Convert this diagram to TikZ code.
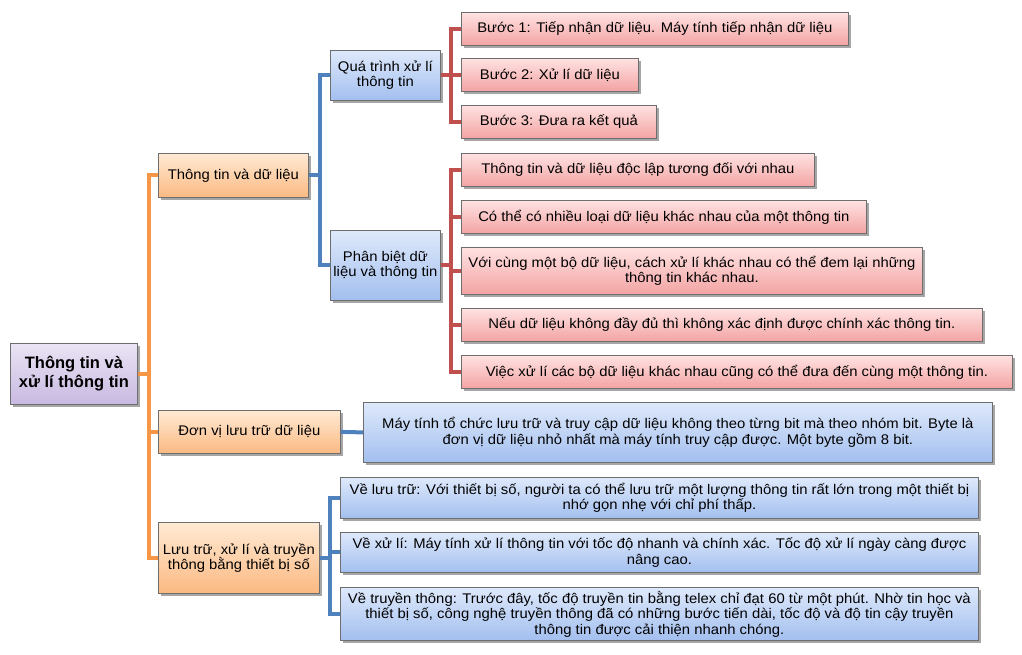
\documentclass[tikz,border=0pt]{standalone}
\usepackage{fontspec}
\setmainfont{Liberation Sans}
\newfontfamily\boxfont[FakeStretch=1.06]{Liberation Sans}
\usetikzlibrary{shadows,calc}
\definecolor{lnorange}{HTML}{F79646}
\definecolor{lnblue}{HTML}{4F81BD}
\definecolor{lnred}{HTML}{C0504D}
\definecolor{bordercol}{HTML}{6E6E6E}
\definecolor{lavtop}{HTML}{EAE4F4}
\definecolor{lavbot}{HTML}{C8B9E1}
\definecolor{ortop}{HTML}{FFEAD4}
\definecolor{orbot}{HTML}{FBB982}
\definecolor{bltop}{HTML}{DEE9FB}
\definecolor{blbot}{HTML}{A3BFEF}
\definecolor{rdtop}{HTML}{FFE2E2}
\definecolor{rdbot}{HTML}{F3A3A3}
\tikzset{
  basebox/.style={rectangle, draw=bordercol, line width=0.8pt, anchor=north west,
    align=center, inner sep=2pt, font=\boxfont\fontsize{14}{15.5}\selectfont,
    drop shadow={shadow xshift=2.5pt, shadow yshift=-3pt, opacity=0.35, fill=black}},
  rootbox/.style={basebox, top color=lavtop, bottom color=lavbot,
    font=\rmfamily\fontsize{16.5}{19}\selectfont\bfseries},
  orbox/.style={basebox, top color=ortop, bottom color=orbot},
  blbox/.style={basebox, top color=bltop, bottom color=blbot},
  rdbox/.style={basebox, top color=rdtop, bottom color=rdbot},
  oline/.style={draw=lnorange, line width=4pt},
  bline/.style={draw=lnblue, line width=4pt},
  rline/.style={draw=lnred, line width=4pt},
}
\begin{document}
\begin{tikzpicture}[x=1pt,y=-1pt]
\useasboundingbox (0,0) rectangle (1022,654);

\coordinate (ox) at (149,0);
\coordinate (bx1) at (320,0);
\coordinate (bx2) at (330,0);
\coordinate (rx) at (451,0);

% root
\node[rootbox, minimum width=127pt, minimum height=61pt] (root) at (10,343) {Thông tin và\\xử lí thông tin};

% level 1
\node[orbox, minimum width=150pt, minimum height=44pt] (ttdl) at (158,153) {Thông tin và dữ liệu};
\node[orbox, minimum width=182pt, minimum height=43pt] (dv) at (158,410) {Đơn vị lưu trữ dữ liệu};
\node[orbox, minimum width=161pt, minimum height=71pt] (lt) at (158,522) {Lưu trữ, xử lí và truyền\\thông bằng thiết bị số};

% level 2
\node[blbox, minimum width=110pt, minimum height=50pt] (qt) at (330,50) {Quá trình xử lí\\thông tin};
\node[blbox, minimum width=110pt, minimum height=70pt] (pb) at (330,230) {Phân biệt dữ\\liệu và thông tin};

% red leaves
\node[rdbox, minimum width=387pt, minimum height=33pt] (b1) at (461,12) {Bước 1: Tiếp nhận dữ liệu. Máy tính tiếp nhận dữ liệu};
\node[rdbox, minimum width=177pt, minimum height=33pt] (b2) at (461,58) {Bước 2: Xử lí dữ liệu};
\node[rdbox, minimum width=195pt, minimum height=33pt] (b3) at (461,105) {Bước 3: Đưa ra kết quả};
\node[rdbox, minimum width=353pt, minimum height=33pt] (p1) at (461,153) {Thông tin và dữ liệu độc lập tương đối với nhau};
\node[rdbox, minimum width=405pt, minimum height=33pt] (p2) at (461,200) {Có thể có nhiều loại dữ liệu khác nhau của một thông tin};
\node[rdbox, minimum width=461pt, minimum height=47pt] (p3) at (461,247) {Với cùng một bộ dữ liệu, cách xử lí khác nhau có thể đem lại những\\thông tin khác nhau.};
\node[rdbox, minimum width=521pt, minimum height=33pt] (p4) at (461,308) {Nếu dữ liệu không đầy đủ thì không xác định được chính xác thông tin.};
\node[rdbox, minimum width=551pt, minimum height=33pt] (p5) at (461,355) {Việc xử lí các bộ dữ liệu khác nhau cũng có thể đưa đến cùng một thông tin.};

% blue leaves
\node[blbox, minimum width=629pt, minimum height=60pt] (dv1) at (363,402) {Máy tính tổ chức lưu trữ và truy cập dữ liệu không theo từng bit mà theo nhóm bit. Byte là\\đơn vị dữ liệu nhỏ nhất mà máy tính truy cập được. Một byte gồm 8 bit.};
\node[blbox, minimum width=638pt, minimum height=41pt] (l1) at (340,477) {Về lưu trữ: Với thiết bị số, người ta có thể lưu trữ một lượng thông tin rất lớn trong một thiết bị\\nhớ gọn nhẹ với chỉ phí thấp.};
\node[blbox, minimum width=638pt, minimum height=40pt] (l2) at (340,532) {Về xử lí: Máy tính xử lí thông tin với tốc độ nhanh và chính xác. Tốc độ xử lí ngày càng được\\nâng cao.};
\node[blbox, minimum width=638pt, minimum height=53pt] (l3) at (340,587) {Về truyền thông: Trước đây, tốc độ truyền tin bằng telex chỉ đạt 60 từ một phút. Nhờ tin học và\\thiết bị số, công nghệ truyền thông đã có những bước tiến dài, tốc độ và độ tin cậy truyền\\thông tin được cải thiện nhanh chóng.};

% orange connectors
\draw[oline] (root.east) -- (root.east -| ox);
\draw[oline, line cap=rect] (ttdl.west -| ox) -- (lt.west -| ox);
\draw[oline] (ttdl.west -| ox) -- (ttdl.west);
\draw[oline] (dv.west -| ox) -- (dv.west);
\draw[oline] (lt.west -| ox) -- (lt.west);

% blue connectors
\draw[bline] (ttdl.east) -- (ttdl.east -| bx1);
\draw[bline, line cap=rect] (qt.west -| bx1) -- (pb.west -| bx1);
\draw[bline] (qt.west -| bx1) -- (qt.west);
\draw[bline] (pb.west -| bx1) -- (pb.west);
\draw[bline] (dv.east) -- (dv1.west);
\draw[bline] (lt.east) -- (lt.east -| bx2);
\draw[bline, line cap=rect] (l1.west -| bx2) -- (l3.west -| bx2);
\draw[bline] (l1.west -| bx2) -- (l1.west);
\draw[bline] (l2.west -| bx2) -- (l2.west);
\draw[bline] (l3.west -| bx2) -- (l3.west);

% red connectors
\draw[rline] (qt.east) -- (qt.east -| rx);
\draw[rline, line cap=rect] (b1.west -| rx) -- (b3.west -| rx);
\foreach \n in {b1,b2,b3} \draw[rline] (\n.west -| rx) -- (\n.west);
\draw[rline] (pb.east) -- (pb.east -| rx);
\draw[rline, line cap=rect] (p1.west -| rx) -- (p5.west -| rx);
\foreach \n in {p1,p2,p3,p4,p5} \draw[rline] (\n.west -| rx) -- (\n.west);
\end{tikzpicture}
\end{document}
